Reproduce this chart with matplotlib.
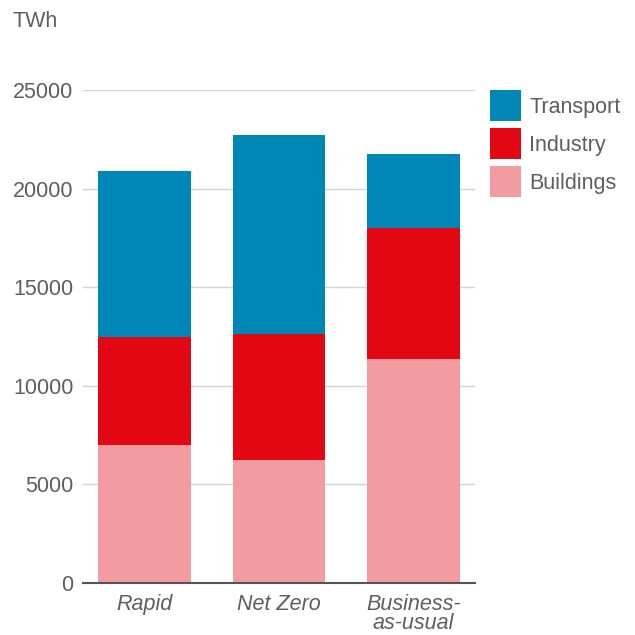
import numpy as np
import matplotlib
matplotlib.use('Agg')
import matplotlib.pyplot as plt

# シナリオ別の最終エネルギー消費（TWh）
scenarios = ['Rapid', 'Net Zero', 'Business-\nas-usual']
buildings = [7000, 6240, 11370]
industry = [5470, 6400, 6635]
transport = [8410, 10065, 3735]

yticks = [0, 5000, 10000, 15000, 20000, 25000]

c_transport = '#0087B7'
c_industry = '#E30613'
c_buildings = '#F29CA2'
text_col = '#5e5e5e'

plt.rcParams['font.family'] = ['Liberation Sans', 'DejaVu Sans']
plt.rcParams['font.size'] = 15.5

fig = plt.figure(figsize=(6.35, 6.35), dpi=100)
ax = fig.add_axes([0.1307, 0.0819, 0.748 - 0.1307, 0.858 - 0.0819])

x = np.arange(len(scenarios))
w = 0.69
b1 = ax.bar(x, buildings, w, color=c_buildings, label='Buildings', zorder=3)
b2 = ax.bar(x, industry, w, bottom=buildings, color=c_industry, label='Industry', zorder=3)
bottom2 = np.array(buildings) + np.array(industry)
b3 = ax.bar(x, transport, w, bottom=bottom2, color=c_transport, label='Transport', zorder=3)

ax.set_xlim(-0.457, 2.457)
ax.set_ylim(0, 25000)
ax.set_yticks(yticks)
ax.set_yticklabels([str(v) for v in yticks], color=text_col)
ax.set_xticks(x)
ax.set_xticklabels(scenarios, style='italic', color=text_col, linespacing=0.88)
ax.tick_params(axis='y', length=0, pad=7)
ax.tick_params(axis='x', length=0, pad=8)

ax.grid(axis='y', color='#d3d3d3', linewidth=1, zorder=0)
for s in ['left', 'right', 'top']:
    ax.spines[s].set_visible(False)
ax.spines['bottom'].set_color('#555555')
ax.spines['bottom'].set_linewidth(1.5)
ax.spines['bottom'].set_zorder(4)

# 凡例（上から Transport, Industry, Buildings）
fig.legend([b3, b2, b1], ['Transport', 'Industry', 'Buildings'],
           loc='upper left', bbox_to_anchor=(0.772, 0.858),
           frameon=False, handlelength=1.44, handleheight=1.84,
           labelspacing=0.326, handletextpad=0.37, borderpad=0,
           borderaxespad=0, labelcolor=text_col, fontsize=15.5)

fig.text(0.019, 0.966, 'TWh', color=text_col, fontsize=15.5, va='center', ha='left')

plt.savefig('out.png', dpi=100)
